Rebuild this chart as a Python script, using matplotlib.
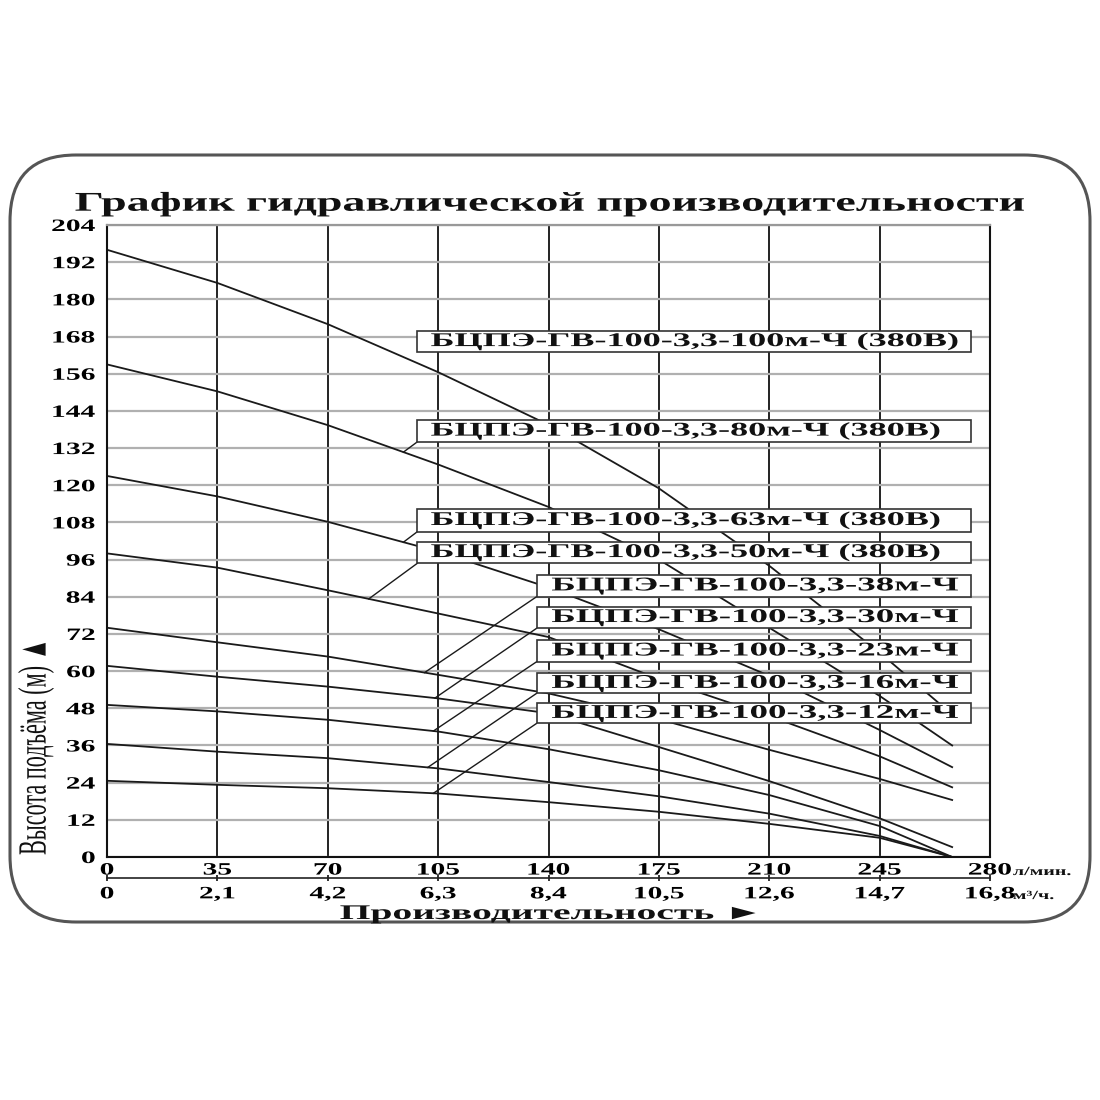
import numpy as np
import matplotlib
matplotlib.use("Agg")
import matplotlib.pyplot as plt
from matplotlib.patches import Rectangle, FancyBboxPatch
from matplotlib.patheffects import AbstractPathEffect
from matplotlib.transforms import Affine2D

# flow, l/min (vertical grid lines, last point is where the curves stop)
flow = [0, 35, 70, 105, 140, 175, 210, 245, 268]

# head, m
head_100 = [196, 185.3, 172, 156.5, 139.5, 119, 94, 66, 46]
head_80 = [159, 150.3, 139.4, 126.7, 113, 96, 74, 52, 36]
head_63 = [123, 116.4, 108.2, 98.6, 87, 73.5, 58.5, 41, 29]
head_50 = [98, 93.4, 86.1, 78.6, 71, 57.5, 45.5, 32.5, 22.5]
head_38 = [74, 69.3, 64.7, 58.8, 52.8, 44.5, 34.6, 25.2, 18.4]
head_30 = [61.7, 58.2, 55, 51.2, 46.4, 35.5, 24.5, 12.5, 3.2]
head_23 = [49.1, 47, 44.3, 40.5, 34.8, 28, 20, 10, 0]
head_16 = [36.5, 34, 31.9, 28.6, 24.2, 19.6, 14, 6.8, 0]
head_12 = [24.6, 23.3, 22.2, 20.5, 17.7, 14.6, 10.7, 6.2, 0]

models = ["БЦПЭ-ГВ-100-3,3-100м-Ч (380В)",
          "БЦПЭ-ГВ-100-3,3-80м-Ч (380В)",
          "БЦПЭ-ГВ-100-3,3-63м-Ч (380В)",
          "БЦПЭ-ГВ-100-3,3-50м-Ч (380В)",
          "БЦПЭ-ГВ-100-3,3-38м-Ч",
          "БЦПЭ-ГВ-100-3,3-30м-Ч",
          "БЦПЭ-ГВ-100-3,3-23м-Ч",
          "БЦПЭ-ГВ-100-3,3-16м-Ч",
          "БЦПЭ-ГВ-100-3,3-12м-Ч"]
heads = [head_100, head_80, head_63, head_50, head_38,
         head_30, head_23, head_16, head_12]

lpm_ticks = [0, 35, 70, 105, 140, 175, 210, 245, 280]
m3h_ticks = [0, 2.1, 4.2, 6.3, 8.4, 10.5, 12.6, 14.7, 16.8]
m3h_labels = ["0", "2,1", "4,2", "6,3", "8,4", "10,5", "12,6", "14,7", "16,8"]
head_ticks = list(range(0, 205, 12))

# label boxes (bottom, top in m), left edge and where the leader meets the curve
box_y = [(163, 169.8), (134, 141), (105, 112.3), (94.8, 101.8), (84, 91),
         (73.8, 80.8), (63, 70), (52.8, 59.3), (43.1, 49.6)]
box_left = [98.4] * 4 + [136.2] * 5
text_left = [102.7] * 4 + [141.0] * 5
text_sx = [1.86] * 4 + [1.9] * 5
leader_x = [None, 94, 94, 83, 100.7, 104, 103.5, 101.7, 103.5]


class Stretch(AbstractPathEffect):
    # the scan is squeezed/stretched, so scale glyph outlines
    def __init__(self, sx=1.0, sy=1.0, anchor="left"):
        super().__init__()
        self.sx, self.sy, self.anchor = sx, sy, anchor

    def draw_path(self, renderer, gc, tpath, affine, rgbFace=None):
        ext = tpath.get_extents()
        x0 = {"left": ext.x0, "center": (ext.x0 + ext.x1) / 2,
              "right": ext.x1}[self.anchor]
        t = Affine2D().translate(-x0, 0).scale(self.sx, self.sy).translate(x0, 0)
        renderer.draw_path(gc, tpath, t + affine, rgbFace)


FONT = ["Liberation Serif", "DejaVu Sans"]
W, H = 1100, 1100


def fx(px):
    return px / W


def fy(py):
    return 1 - py / H


fig = plt.figure(figsize=(11, 11), dpi=100)
fig.patch.set_facecolor("white")

frame = FancyBboxPatch((fx(10), fy(922)), fx(1080), (922 - 155) / H,
                       boxstyle="round,pad=0,rounding_size=0.06",
                       transform=fig.transFigure, fill=False,
                       ec="#555555", lw=2.2)
fig.add_artist(frame)

ax = fig.add_axes([fx(107), fy(857), (990 - 107) / W, (857 - 225) / H])
ax.set_xlim(0, 280)
ax.set_ylim(0, 204)

ax.set_xticks(lpm_ticks, labels=[str(t) for t in lpm_ticks])
ax.set_yticks(head_ticks, labels=[str(t) for t in head_ticks])
ax.tick_params(axis="both", length=0, labelsize=12.5)
ax.tick_params(axis="x", pad=4)
ax.tick_params(axis="y", pad=8.5)
ax.grid(axis="y", color="#b0b0b0", lw=1.6)
ax.grid(axis="x", color="#111111", lw=1.3)
ax.set_axisbelow(True)
for side in ["left", "right", "bottom"]:
    ax.spines[side].set_linewidth(1.5)
    ax.spines[side].set_color("#111111")
ax.spines["top"].set_color("#999999")
ax.spines["top"].set_linewidth(1.6)

for lab in ax.get_xticklabels():
    lab.set_fontfamily(FONT)
    lab.set_fontweight("bold")
    lab.set_path_effects([Stretch(1.7, anchor="center")])
for lab in ax.get_yticklabels():
    lab.set_fontfamily(FONT)
    lab.set_fontweight("bold")
    lab.set_path_effects([Stretch(1.7, anchor="right")])

sec = ax.secondary_xaxis(-21 / 632, functions=(lambda q: q * 0.06, lambda m: m / 0.06))
sec.set_xticks(m3h_ticks, labels=m3h_labels)
sec.tick_params(axis="x", direction="inout", length=5, width=1.2, pad=3.5,
                labelsize=12.5, color="#111111")
sec.spines["bottom"].set_linewidth(1.2)
sec.spines["bottom"].set_color("#222222")
for lab in sec.get_xticklabels():
    lab.set_fontfamily(FONT)
    lab.set_fontweight("bold")
    lab.set_path_effects([Stretch(1.7, anchor="center")])

# curves
for h in heads:
    ax.plot(flow, h, color="#1a1a1a", lw=1.3, zorder=2)

# label boxes and leaders
for name, h, (b, t), bl, tl, sx, lx in zip(models, heads, box_y, box_left,
                                           text_left, text_sx, leader_x):
    ax.add_patch(Rectangle((bl, b), 274 - bl, t - b, facecolor="white",
                           edgecolor="#333333", lw=1.2, zorder=3))
    if lx is not None:
        ax.plot([bl, lx], [b, np.interp(lx, flow, h)], color="#1a1a1a",
                lw=1.0, zorder=2.5)
    ax.text(tl, (b + t) / 2, name, ha="left", va="center", fontsize=14,
            fontweight="bold", family=FONT, color="#111111", zorder=4,
            path_effects=[Stretch(sx)])

# titles
fig.text(fx(75), fy(210.7), "График гидравлической производительности",
         ha="left", va="baseline", fontsize=19.5, fontweight="bold",
         family=FONT, color="#111111", path_effects=[Stretch(1.7)])
fig.text(fx(340), fy(919), "Производительность ►", ha="left", va="baseline",
         fontsize=15, fontweight="bold", family=FONT, color="#111111",
         path_effects=[Stretch(1.9)])
fig.text(fx(45.6), fy(855), "Высота подъёма (м) ▲", rotation=90,
         rotation_mode="anchor", ha="left", va="baseline", fontsize=16,
         family=FONT, color="#111111", path_effects=[Stretch(1.0, 1.8)])
fig.text(fx(1013), fy(875), "л/мин.", ha="left", va="baseline", fontsize=9,
         fontweight="bold", family=FONT, color="#111111",
         path_effects=[Stretch(1.6)])
fig.text(fx(1013), fy(899), "м³/ч.", ha="left", va="baseline", fontsize=9,
         fontweight="bold", family=FONT, color="#111111",
         path_effects=[Stretch(1.6)])

fig.savefig("out.png", dpi=100, facecolor="white")
